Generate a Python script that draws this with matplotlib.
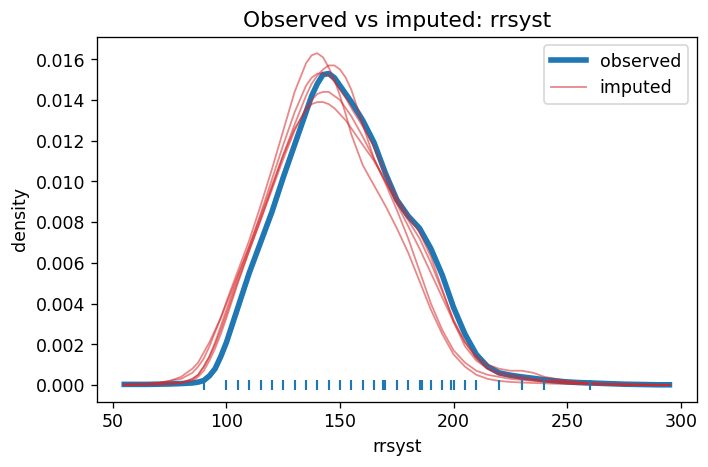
import matplotlib
matplotlib.use("Agg")
import matplotlib.pyplot as plt

plt.rcParams["font.size"] = 10.6

# density grid (rrsyst values) shared by all curves
grid = [55, 60, 65, 70, 75, 80, 85,
        87.5, 90, 92.5, 95, 97.5, 100,
        105, 110, 115, 120, 125, 130, 135,
        137.5, 140, 142.5, 145, 147.5, 150, 152.5, 155,
        160, 165, 170, 175, 180, 185, 190, 195, 200, 205, 210, 215, 220, 225,
        230, 235, 240, 245, 250, 255, 260, 265, 270, 275, 280, 285, 290, 295]

observed = [0.00003, 0.00003, 0.00003, 0.00004, 0.00005, 0.00007, 0.0001,
            0.00014, 0.00022, 0.00045, 0.0008, 0.0014, 0.0021,
            0.0038, 0.0055, 0.0070, 0.0085, 0.0102, 0.0118, 0.0134,
            0.0142, 0.0148, 0.01525, 0.0153, 0.0151, 0.0147, 0.0143, 0.0139,
            0.0130, 0.0119, 0.0104, 0.0091, 0.0083, 0.0077, 0.0067, 0.0054,
            0.0038, 0.0025, 0.0015, 0.0009, 0.0006, 0.00048, 0.0004, 0.00033,
            0.00026, 0.0002, 0.00015, 0.00012, 0.0001, 0.00008, 0.00006,
            0.00004, 0.00003, 0.00002, 0.00001, 0.00001]

imp_a = [0.00002, 0.00003, 0.00005, 0.0001, 0.0002, 0.0003, 0.0006,
         0.0009, 0.0013, 0.0019, 0.0026, 0.0033, 0.0041,
         0.0056, 0.0071, 0.0088, 0.0106, 0.0125, 0.0144, 0.0158,
         0.0162, 0.0163, 0.0161, 0.0156, 0.0150, 0.0142, 0.0133, 0.0123,
         0.0108, 0.0098, 0.0088, 0.0077, 0.0065, 0.0051, 0.0037, 0.0025,
         0.0015, 0.0009, 0.0005, 0.0003, 0.0002, 0.00015, 0.00012, 0.0001,
         0.00008, 0.00006, 0.00005, 0.00004, 0.00003, 0.00002, 0.00002,
         0.00001, 0.00001, 0.00001, 0.0, 0.0]

imp_b = [0.00001, 0.00002, 0.00003, 0.00004, 0.00006, 0.0001, 0.0002,
         0.0004, 0.0007, 0.0012, 0.0018, 0.0025, 0.0033,
         0.0050, 0.0066, 0.0081, 0.0097, 0.0113, 0.0128, 0.0142,
         0.0148, 0.0152, 0.0155, 0.0157, 0.0157, 0.0155, 0.0151, 0.0145,
         0.0128, 0.0111, 0.0099, 0.0086, 0.0072, 0.0056, 0.0040, 0.0027,
         0.0017, 0.0011, 0.0007, 0.0005, 0.0004, 0.0003, 0.00025, 0.0002,
         0.00015, 0.00012, 0.0001, 0.00008, 0.00006, 0.00004, 0.00003,
         0.00002, 0.00001, 0.00001, 0.0, 0.0]

imp_c = [0.00001, 0.00002, 0.00003, 0.00004, 0.00006, 0.0001, 0.0003,
         0.0005, 0.0009, 0.0014, 0.0021, 0.0029, 0.0037,
         0.0053, 0.0068, 0.0084, 0.0101, 0.0118, 0.0134, 0.0147,
         0.0151, 0.0153, 0.0153, 0.0152, 0.0149, 0.0145, 0.0141, 0.0136,
         0.0127, 0.0117, 0.0104, 0.0092, 0.0083, 0.0075, 0.0063, 0.0047,
         0.0031, 0.0019, 0.0012, 0.0008, 0.0006, 0.0005, 0.0004, 0.0003,
         0.00022, 0.00016, 0.00012, 0.0001, 0.00008, 0.00006, 0.00004,
         0.00003, 0.00002, 0.00001, 0.00001, 0.0]

imp_d = [0.00001, 0.00002, 0.00003, 0.00004, 0.00006, 0.0001, 0.0003,
         0.0005, 0.0009, 0.0014, 0.0020, 0.0027, 0.0035,
         0.0051, 0.0066, 0.0081, 0.0096, 0.0111, 0.0125, 0.0136,
         0.0140, 0.0143, 0.0144, 0.0144, 0.0142, 0.0140, 0.0136, 0.0132,
         0.0122, 0.0111, 0.0100, 0.0090, 0.0081, 0.0072, 0.0060, 0.0046,
         0.0032, 0.0021, 0.0013, 0.0008, 0.0005, 0.0004, 0.0003, 0.00025,
         0.0002, 0.0002, 0.00018, 0.00014, 0.0001, 0.00007, 0.00005,
         0.00003, 0.00002, 0.00001, 0.00001, 0.0]

imp_e = [0.00002, 0.00003, 0.00005, 0.0001, 0.0002, 0.0004, 0.0008,
         0.0011, 0.0016, 0.0021, 0.0027, 0.0033, 0.0040,
         0.0054, 0.0068, 0.0083, 0.0098, 0.0113, 0.0126, 0.0135,
         0.0138, 0.0139, 0.0139, 0.0138, 0.0136, 0.0133, 0.0130, 0.0126,
         0.0118, 0.0110, 0.0100, 0.0089, 0.0078, 0.0067, 0.0055, 0.0043,
         0.0031, 0.0021, 0.0014, 0.0010, 0.0008, 0.0007, 0.0007, 0.0006,
         0.0004, 0.0003, 0.0002, 0.00012, 0.00008, 0.00005, 0.00003,
         0.00002, 0.00001, 0.00001, 0.0, 0.0]

imputed = [imp_a, imp_b, imp_c, imp_d, imp_e]

# observed values shown as a rug
rug_values = [90, 100, 105, 110, 115, 120, 125, 130, 135, 140, 145, 150, 155,
              160, 165, 169, 170, 175, 180, 185, 186, 190, 195, 199, 200, 205,
              210, 220, 230, 240, 260]


def main():
    fig, ax = plt.subplots(figsize=(6, 3.96), dpi=118)
    fig.subplots_adjust(left=0.137, right=0.984, top=0.921, bottom=0.140)

    ax.plot(grid, observed, color="tab:blue", lw=3.4, label="observed")
    for i, dens in enumerate(imputed):
        ax.plot(grid, dens, color="tab:red", lw=1.1, alpha=0.55,
                label="imputed" if i == 0 else None)
    ax.plot(rug_values, [0] * len(rug_values), "|", color="tab:blue",
            ms=6.5, mew=1.3)

    ax.set_title("Observed vs imputed: rrsyst", fontsize=13.2)
    ax.set_xlabel("rrsyst")
    ax.set_ylabel("density")
    ax.legend(loc="upper right")
    fig.savefig("out.png")


if __name__ == "__main__":
    main()
